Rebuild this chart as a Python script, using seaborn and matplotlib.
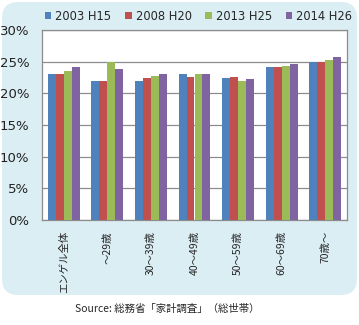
import numpy as np
import pandas as pd
import matplotlib
matplotlib.use("Agg")
import matplotlib.pyplot as plt
from matplotlib.patches import FancyBboxPatch
from matplotlib.ticker import FuncFormatter
import seaborn as sns

categories = ["エンゲル全体", "～29歳", "30～39歳", "40～49歳", "50～59歳", "60～69歳", "70歳～"]
series = ["2003 H15", "2008 H20", "2013 H25", "2014 H26"]
v2003 = [23.1, 21.9, 21.9, 23.1, 22.4, 24.1, 24.9]
v2008 = [23.1, 21.9, 22.4, 22.5, 22.5, 24.1, 24.9]
v2013 = [23.6, 25.0, 22.7, 23.0, 22.0, 24.3, 25.2]
v2014 = [24.1, 23.8, 23.0, 23.1, 22.2, 24.7, 25.7]
colors = ["#4F81BD", "#C0504D", "#9BBB59", "#8064A2"]

sns.set_style("white")
plt.rcParams['font.family'] = ['DejaVu Sans', 'Noto Sans CJK JP']

rows = []
for s, vals in zip(series, [v2003, v2008, v2013, v2014]):
    for c, v in zip(categories, vals):
        rows.append({"cat": c, "series": s, "val": v})
df = pd.DataFrame(rows)

fig = plt.figure(figsize=(3.59, 3.25), dpi=100)
bg = FancyBboxPatch((2/359, (325-295)/325), 355/359, 293/325,
                    boxstyle="round,pad=0,rounding_size=0.045",
                    transform=fig.transFigure, facecolor="#DBEEF4",
                    edgecolor="none", zorder=-10, mutation_aspect=359/325)
fig.patches.append(bg)

ax = fig.add_axes([42/359, (325-220)/325, 305/359, 190/325])
ax.set_zorder(1)
ax.set_facecolor("white")
sns.barplot(data=df, x="cat", y="val", hue="series", palette=colors,
            order=categories, hue_order=series, width=0.73, gap=0,
            edgecolor="none", linewidth=0, saturation=1, ax=ax, zorder=3)
ax.set_ylim(0, 30)
ax.set_yticks(np.arange(0, 31, 5))
ax.yaxis.set_major_formatter(FuncFormatter(lambda v, p: f"{int(v)}%"))
ax.grid(axis="y", color="#8C8C8C", linewidth=0.9, zorder=0)
ax.set_axisbelow(True)
for sp in ax.spines.values():
    sp.set_color("#8C8C8C")
    sp.set_linewidth(0.9)
ax.set_xlabel("")
ax.set_ylabel("")
ax.tick_params(axis="y", labelsize=9.5, length=0, pad=9, colors="#222222")
ax.tick_params(axis="x", length=0, pad=8)
ax.set_xticks(range(len(categories)))
ax.set_xticklabels(categories, rotation=90, fontsize=7.5,
                   family=['Noto Sans CJK JP', 'DejaVu Sans'], va="top", ha="center")

handles, labels = ax.get_legend_handles_labels()
ax.legend_.remove()
leg = fig.legend(handles, labels, loc="center", bbox_to_anchor=(198.5/359, (325-16)/325),
                 ncol=4, frameon=False, fontsize=8.3, handlelength=0.6, handleheight=0.6,
                 handletextpad=0.35, columnspacing=1.15, borderpad=0, borderaxespad=0)

fig.text(167/359, (325-309)/325, "Source: 総務省「家計調査」（総世帯）",
         ha="center", va="center", fontsize=7.5,
         family=['Noto Sans CJK JP', 'DejaVu Sans'])

fig.savefig("out.png", dpi=100)
